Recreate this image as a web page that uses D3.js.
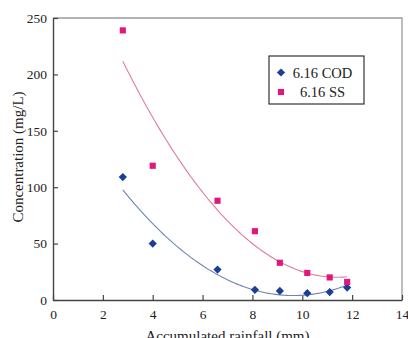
<!DOCTYPE html>
<html>
<head>
<meta charset="utf-8">
<script src="https://cdn.jsdelivr.net/npm/d3@7"></script>
<style>
  body { margin: 0; background: #fff; }
  svg { display: block; font-family: "Liberation Serif", "Times New Roman", serif; }
</style>
</head>
<body>
<svg id="chart" width="408" height="338"></svg>
<script>
// rainfall (mm) at each sample
const rainfall = [2.8, 4.0, 6.6, 8.1, 9.1, 10.2, 11.1, 11.8];
// concentrations (mg/L)
const codValues = [109, 50, 27, 9, 8, 6, 7, 11];
const ssValues = [239, 119, 88, 61, 33, 24, 20, 16];
const xTicks = [0, 2, 4, 6, 8, 10, 12, 14];
const yTicks = [0, 50, 100, 150, 200, 250];

// diamond = square turned 45deg
const series = [
  { name: "6.16 COD", values: codValues, color: "#1b3f98", line: "#6f86b4", symbol: d3.symbolSquare, size: 34, rot: 45 },
  { name: "6.16 SS", values: ssValues, color: "#e2177b", line: "#e07c9c", symbol: d3.symbolSquare, size: 38, rot: 0 },
];

const svg = d3.select("#chart");
const margin = { left: 53, right: 6, top: 18, bottom: 38 };
const W = 408, H = 338;

const x = d3.scaleLinear().domain([0, 14]).range([margin.left, W - margin.right]);
const y = d3.scaleLinear().domain([0, 250]).range([H - margin.bottom, margin.top]);

// quadratic least-squares trend line, like a spreadsheet polynomial trendline
function quadFit(xs, ys) {
  let s = [0, 0, 0, 0, 0], t = [0, 0, 0];
  xs.forEach((xi, i) => {
    for (let k = 0; k < 5; k++) s[k] += Math.pow(xi, k);
    for (let k = 0; k < 3; k++) t[k] += ys[i] * Math.pow(xi, k);
  });
  const A = [[s[0], s[1], s[2], t[0]], [s[1], s[2], s[3], t[1]], [s[2], s[3], s[4], t[2]]];
  for (let i = 0; i < 3; i++) {
    for (let j = i + 1; j < 3; j++) {
      const f = A[j][i] / A[i][i];
      for (let k = i; k < 4; k++) A[j][k] -= f * A[i][k];
    }
  }
  const c = [0, 0, 0];
  for (let i = 2; i >= 0; i--) {
    let v = A[i][3];
    for (let k = i + 1; k < 3; k++) v -= A[i][k] * c[k];
    c[i] = v / A[i][i];
  }
  return xv => c[0] + c[1] * xv + c[2] * xv * xv;
}

// frame (top + right, light)
svg.append("path")
  .attr("d", `M${x(0)},${y(250)}H${x(14)}V${y(0)}`)
  .attr("fill", "none")
  .attr("stroke", "#9a9a9a")
  .attr("stroke-width", 1.3);

// x axis
const xAxis = svg.append("g")
  .attr("transform", `translate(0,${y(0)})`)
  .call(d3.axisBottom(x).tickValues(xTicks).tickSizeInner(-5).tickSizeOuter(0).tickPadding(9));
// y axis
const yAxis = svg.append("g")
  .attr("transform", `translate(${x(0)},0)`)
  .call(d3.axisLeft(y).tickValues(yTicks).tickSizeInner(-5).tickSizeOuter(0).tickPadding(6));

[xAxis, yAxis].forEach(a => {
  a.select(".domain").attr("stroke", "#444").attr("stroke-width", 1.4);
  a.selectAll(".tick line").attr("stroke", "#444").attr("stroke-width", 1.2);
  a.selectAll(".tick text")
    .attr("font-family", "Liberation Serif, serif")
    .attr("font-size", 13.5)
    .attr("fill", "#222");
});

// axis titles
svg.append("text")
  .attr("x", (x(0) + x(14)) / 2)
  .attr("y", 341)
  .attr("text-anchor", "middle")
  .attr("font-size", 15)
  .attr("fill", "#222")
  .text("Accumulated rainfall (mm)");

svg.append("text")
  .attr("transform", `translate(23,${(y(0) + y(250)) / 2 - 2}) rotate(-90)`)
  .attr("text-anchor", "middle")
  .attr("font-size", 15)
  .attr("fill", "#222")
  .text("Concentration (mg/L)");

// trend lines
const line = d3.line().x(d => x(d[0])).y(d => y(d[1]));
series.forEach(s => {
  const f = quadFit(rainfall, s.values);
  const x0 = d3.min(rainfall), x1 = d3.max(rainfall);
  const pts = d3.range(0, 101).map(i => {
    const xv = x0 + (x1 - x0) * i / 100;
    return [xv, f(xv)];
  });
  svg.append("path")
    .attr("d", line(pts))
    .attr("fill", "none")
    .attr("stroke", s.line)
    .attr("stroke-width", 1.1);
});

// markers
series.forEach(s => {
  svg.append("g")
    .selectAll("path")
    .data(rainfall.map((r, i) => [r, s.values[i]]))
    .join("path")
    .attr("transform", d => `translate(${x(d[0])},${y(d[1])}) rotate(${s.rot})`)
    .attr("d", d3.symbol(s.symbol, s.size))
    .attr("fill", s.color);
});

// legend
const lg = svg.append("g").attr("transform", "translate(269,56)");
lg.append("rect")
  .attr("width", 95).attr("height", 48)
  .attr("fill", "#fff")
  .attr("stroke", "#333")
  .attr("stroke-width", 1.2);
series.forEach((s, i) => {
  const cy = 16.5 + i * 19.5;
  lg.append("path")
    .attr("transform", `translate(12,${cy}) rotate(${s.rot})`)
    .attr("d", d3.symbol(s.symbol, s.size))
    .attr("fill", s.color);
  lg.append("text")
    .attr("x", 53.5)
    .attr("y", cy)
    .attr("dy", "0.35em")
    .attr("text-anchor", "middle")
    .attr("font-size", 14.5)
    .attr("fill", "#222")
    .text(s.name);
});
</script>
</body>
</html>
